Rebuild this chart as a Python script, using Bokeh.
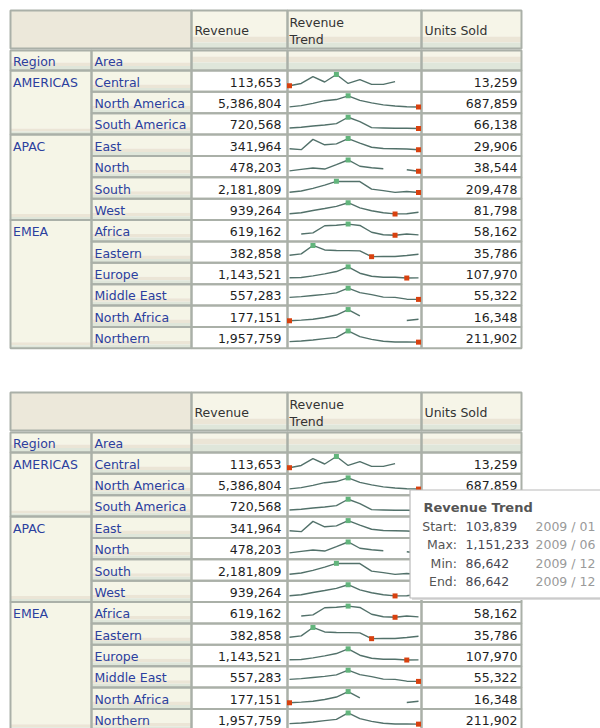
import numpy as np
from bokeh.plotting import figure
from bokeh.models import ColumnDataSource, Range1d
from bokeh.embed import file_html
from bokeh.resources import INLINE
from bokeh.core.properties import value

# ---------------- data ----------------
regions = ["AMERICAS", "APAC", "EMEA"]
region_sizes = [3, 4, 6]
areas = ["Central", "North America", "South America", "East", "North", "South", "West",
         "Africa", "Eastern", "Europe", "Middle East", "North Africa", "Northern"]
revenue = [113653, 5386804, 720568, 341964, 478203, 2181809, 939264,
           619162, 382858, 1143521, 557283, 177151, 1957759]
units_sold = [13259, 687859, 66138, 29906, 38544, 209478, 81798,
              58162, 35786, 107970, 55322, 16348, 211902]
months = ["2009 / 01", "2009 / 02", "2009 / 03", "2009 / 04", "2009 / 05", "2009 / 06",
          "2009 / 07", "2009 / 08", "2009 / 09", "2009 / 10", "2009 / 11", "2009 / 12"]
col_headers = ["Revenue", "Revenue\nTrend", "Units Sold"]
row_headers = ["Region", "Area"]

# monthly revenue trend, read from the sparklines (0 = row minimum, 100 = row maximum)
trend_central = [0, 20, 81, 33, 100, 20, 55, 12, 12, 37, None, None]
trend_north_america = [2, 13, 33, 57, 67, 100, 60, 37, 20, 10, 3, 0]
trend_south_america = [4.5, 10, 22, 31, 43, 100, 61, 7, 4.5, 1.5, 1.5, 0]
trend_east = [9.6, 1.4, 93, 45, 53, 100, 59, 23, 12, 9.6, 7, 0]
trend_north = [3, 16, 28, 19, 59, 100, 44, 31, 22, None, 12.5, 0]
trend_south = [3, 14, 37, 66, 100, 99, 98, 31, 17, 1.5, 9, 0]
trend_west = [2, 11, 31, 48, 67, 100, 54, 28, 11, 0, 2, 15]
trend_africa = [None, 12, 22, 85, 90, 100, 88, 27, 5, 0, 12, 4]
trend_eastern = [12, 25, 100, 60, 55, 54, 52, 0, 1, 2, 10, 21]
trend_europe = [3, 4.5, 19, 37, 58, 100, 43, 16, 7.5, 7.5, 0, 1.5]
trend_middle_east = [18, 25, 35, 45, 58, 100, 61, 43, 20, 18, 2, 0]
trend_north_africa = [0, 6, 14, 29, 51, 100, 43, None, None, None, 3, 14]
trend_northern = [4.5, 10, 19, 31, 43, 100, 49, 25, 7.5, 1.5, 1.5, 0]
trends = [trend_central, trend_north_america, trend_south_america, trend_east, trend_north,
          trend_south, trend_west, trend_africa, trend_eastern, trend_europe,
          trend_middle_east, trend_north_africa, trend_northern]

tooltip_title = "Revenue Trend"
tooltip_labels = ["Start:", "Max:", "Min:", "End:"]
tooltip_values = ["103,839", "1,151,233", "86,642", "86,642"]
tooltip_dates = ["2009 / 01", "2009 / 06", "2009 / 12", "2009 / 12"]

# ---------------- style ----------------
FONT = value("DejaVu Sans")
FS = value("12.5px")
CREAM = "#f5f5e7"
BEIGE = "#ebe5d6"
GREEN = "#dfe6da"
TOPLEFT = "#ece8da"
BORDER = "#aab0a8"
BLUE = "#2b409e"
LINE = "#52716a"
MAXC = "#62b57c"
MINC = "#d8410f"

cx = [10, 91, 191, 287, 421, 521]
RH = 21.37

p = figure(width=600, height=728, x_range=Range1d(0, 600), y_range=Range1d(728, 0),
           output_backend="svg", toolbar_location=None, min_border=0,
           x_axis_location=None, y_axis_location=None)
p.grid.visible = False
p.outline_line_color = None
p.background_fill_color = "white"
p.border_fill_color = "white"


def draw_table(y_off):
    T = 10 + y_off
    D = T + 60
    fills = dict(l=[], r=[], t=[], b=[], c=[])
    cells = dict(l=[], r=[], t=[], b=[])

    def fill(l, r, t, b, c):
        fills["l"].append(l); fills["r"].append(r)
        fills["t"].append(t); fills["b"].append(b); fills["c"].append(c)

    def cell(l, r, t, b):
        cells["l"].append(l); cells["r"].append(r)
        cells["t"].append(t); cells["b"].append(b)

    # header row 1
    fill(cx[0], cx[2], T, T + 38, TOPLEFT)
    cell(cx[0], cx[2], T, T + 38)
    for c in range(2, 5):
        fill(cx[c], cx[c + 1], T, T + 26, "#f6f5e8")
        fill(cx[c], cx[c + 1], T + 26, T + 32, BEIGE)
        fill(cx[c], cx[c + 1], T + 32, T + 38, GREEN)
        cell(cx[c], cx[c + 1], T, T + 38)
    # header row 2
    for c in range(5):
        if c < 2:
            fill(cx[c], cx[c + 1], T + 40, T + 52, CREAM)
            fill(cx[c], cx[c + 1], T + 52, T + 55.5, BEIGE)
            fill(cx[c], cx[c + 1], T + 55.5, T + 60, GREEN)
        else:
            fill(cx[c], cx[c + 1], T + 40, T + 46, "#f6f5e8")
            fill(cx[c], cx[c + 1], T + 46, T + 52, BEIGE)
            fill(cx[c], cx[c + 1], T + 52, T + 60, GREEN)
        cell(cx[c], cx[c + 1], T + 40, T + 60)
    # region cells
    r0 = 0
    for g, n in enumerate(region_sizes):
        top = D + r0 * RH
        bot = D + (r0 + n) * RH
        fill(cx[0], cx[1], top, bot - 6, CREAM)
        fill(cx[0], cx[1], bot - 6, bot - 3, BEIGE)
        fill(cx[0], cx[1], bot - 3, bot, GREEN)
        cell(cx[0], cx[1], top, bot)
        r0 += n
    # area + data cells
    for r in range(len(areas)):
        top = D + r * RH
        bot = top + RH
        fill(cx[1], cx[2], top, top + 14, CREAM)
        fill(cx[1], cx[2], top + 14, top + 17.5, BEIGE)
        fill(cx[1], cx[2], top + 17.5, bot, GREEN)
        for c in range(1, 5):
            cell(cx[c], cx[c + 1], top, bot)

    p.quad(left=fills["l"], right=fills["r"], top=fills["t"], bottom=fills["b"],
           fill_color=fills["c"], line_color=None)
    p.quad(left=cells["l"], right=cells["r"], top=cells["t"], bottom=cells["b"],
           fill_color=None, line_color=BORDER, line_width=2)

    # texts
    tx, ty, tt, ta, tc = [], [], [], [], []

    def txt(x, y, s, a, c):
        tx.append(x); ty.append(y); tt.append(s); ta.append(a); tc.append(c)

    hdr_lines = col_headers[1].split("\n")
    txt(cx[2] + 3, T + 20, col_headers[0], "left", "#333333")
    txt(cx[3] + 2, T + 12, hdr_lines[0], "left", "#333333")
    txt(cx[3] + 2, T + 29, hdr_lines[1], "left", "#333333")
    txt(cx[4] + 3, T + 20, col_headers[2], "left", "#333333")
    txt(cx[0] + 2.5, T + 51, row_headers[0], "left", BLUE)
    txt(cx[1] + 3, T + 51, row_headers[1], "left", BLUE)
    r0 = 0
    for g, n in enumerate(region_sizes):
        txt(cx[0] + 2.5, D + r0 * RH + RH / 2 + 1, regions[g], "left", BLUE)
        r0 += n
    for r, a in enumerate(areas):
        yc = D + r * RH + RH / 2 + 1
        txt(cx[1] + 3, yc, a, "left", BLUE)
        txt(cx[3] - 6, yc, f"{revenue[r]:,}", "right", "#1e1e1e")
        txt(cx[5] - 4, yc, f"{units_sold[r]:,}", "right", "#1e1e1e")
    src = ColumnDataSource(dict(x=tx, y=ty, text=tt, align=ta, color=tc))
    p.text(x="x", y="y", text="text", text_align="align", text_color="color",
           text_baseline="middle", text_font=FONT, text_font_size=FS, source=src)

    # sparklines
    x0 = cx[3] + 2
    step = (cx[4] - 3 - x0) / (len(months) - 1)
    mx_x, mx_y, mn_x, mn_y = [], [], [], []
    for r, tr in enumerate(trends):
        top = D + r * RH
        vals = np.array([np.nan if v is None else v for v in tr], dtype=float)
        lo, hi = np.nanmin(vals), np.nanmax(vals)
        ys = top + 4.0 + (hi - vals) / (hi - lo) * 11.2
        xs = x0 + np.arange(len(months)) * step
        p.line(xs, ys, line_color=LINE, line_width=1.4)
        imax = int(np.nanargmax(vals)); imin = int(np.nanargmin(vals))
        mx_x.append(xs[imax]); mx_y.append(ys[imax])
        mn_x.append(xs[imin]); mn_y.append(ys[imin])
    p.scatter(mx_x, mx_y, marker="square", size=5, fill_color=MAXC, line_color=None)
    p.scatter(mn_x, mn_y, marker="square", size=5, fill_color=MINC, line_color=None)


draw_table(0)
draw_table(382)

# tooltip (hover on North America in the second table)
p.quad(left=[411.5], right=[610], top=[491.5], bottom=[599.5], fill_color="#dcdcdc", line_color=None)
p.quad(left=[409.5], right=[606], top=[489.5], bottom=[597.5], fill_color="white",
       line_color="#bababa", line_width=1.2)
p.text(x=[423], y=[506.5], text=[tooltip_title], text_font=FONT, text_font_size=value("13px"),
       text_font_style="bold", text_color="#555555", text_baseline="middle")
ty = [525.7, 544.3, 562.7, 581.2]
p.text(x=[456.5] * 4, y=ty, text=tooltip_labels, text_font=FONT, text_font_size=FS,
       text_color="#555555", text_align="right", text_baseline="middle")
p.text(x=[465] * 4, y=ty, text=tooltip_values, text_font=FONT, text_font_size=FS,
       text_color="#474752", text_align="left", text_baseline="middle")
p.text(x=[535] * 4, y=ty, text=tooltip_dates, text_font=FONT, text_font_size=FS,
       text_color="#9a9a9a", text_align="left", text_baseline="middle")

open("out.html", "w").write(file_html(p, INLINE))
